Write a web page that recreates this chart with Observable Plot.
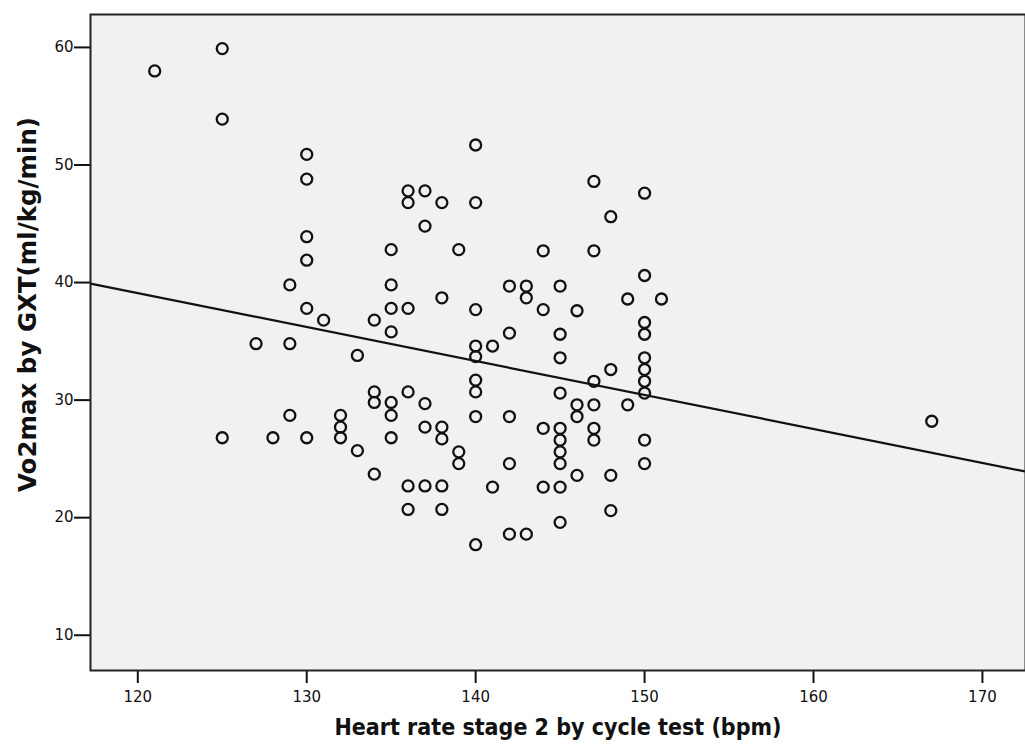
<!DOCTYPE html>
<html>
<head>
<meta charset="utf-8">
<script src="https://cdn.jsdelivr.net/npm/d3@7"></script>
<script src="https://cdn.jsdelivr.net/npm/@observablehq/plot@0.6"></script>
<style>
  html, body { margin: 0; padding: 0; background: #fff; overflow: hidden; }
</style>
</head>
<body>
<div id="chart"></div>
<script>
// Heart rate at stage 2 of the cycle test (bpm), one entry per subject
const heartRate = [
  121,
  125, 125, 125,
  127,
  128,
  129, 129, 129,
  130, 130, 130, 130, 130, 130,
  131,
  132, 132, 132,
  133, 133,
  134, 134, 134, 134,
  135, 135, 135, 135, 135, 135, 135,
  136, 136, 136, 136, 136, 136,
  137, 137, 137, 137, 137,
  138, 138, 138, 138, 138, 138,
  139, 139, 139,
  140, 140, 140, 140, 140, 140, 140, 140, 140,
  141, 141,
  142, 142, 142, 142, 142,
  143, 143, 143,
  144, 144, 144, 144,
  145, 145, 145, 145, 145, 145, 145, 145, 145, 145,
  146, 146, 146, 146,
  147, 147, 147, 147, 147, 147,
  148, 148, 148, 148,
  149, 149,
  150, 150, 150, 150, 150, 150, 150, 150, 150, 150,
  151,
  167
];

// VO2max measured by graded exercise test (ml/kg/min), same order
const vo2max = [
  58.0,
  59.9, 53.9, 26.8,
  34.8,
  26.8,
  39.8, 34.8, 28.7,
  50.9, 48.8, 43.9, 41.9, 37.8, 26.8,
  36.8,
  28.7, 27.7, 26.8,
  33.8, 25.7,
  36.8, 30.7, 29.8, 23.7,
  42.8, 39.8, 37.8, 35.8, 29.8, 28.7, 26.8,
  47.8, 46.8, 37.8, 30.7, 22.7, 20.7,
  47.8, 44.8, 29.7, 27.7, 22.7,
  46.8, 38.7, 27.7, 26.7, 22.7, 20.7,
  42.8, 25.6, 24.6,
  51.7, 46.8, 37.7, 34.6, 33.7, 31.7, 30.7, 28.6, 17.7,
  34.6, 22.6,
  39.7, 35.7, 28.6, 24.6, 18.6,
  39.7, 38.7, 18.6,
  42.7, 37.7, 27.6, 22.6,
  39.7, 35.6, 33.6, 30.6, 27.6, 26.6, 25.6, 24.6, 22.6, 19.6,
  37.6, 29.6, 28.6, 23.6,
  48.6, 42.7, 31.6, 29.6, 27.6, 26.6,
  45.6, 32.6, 23.6, 20.6,
  38.6, 29.6,
  47.6, 40.6, 36.6, 35.6, 33.6, 32.6, 31.6, 30.6, 26.6, 24.6,
  38.6,
  28.2
];

const xTicks = [120, 130, 140, 150, 160, 170];
const yTicks = [10, 20, 30, 40, 50, 60];
const xLabel = "Heart rate stage 2 by cycle test (bpm)";
const yLabel = "Vo2max by GXT(ml/kg/min)";

const xDomain = [117.2, 172.55];
const yDomain = [7.0, 62.8];

const points = heartRate.map((hr, i) => ({hr, vo2: vo2max[i]}));

// Ordinary least-squares fit line, drawn across the full x range
const mx = d3.mean(heartRate);
const my = d3.mean(vo2max);
const slope = d3.sum(points, d => (d.hr - mx) * (d.vo2 - my)) / d3.sum(points, d => (d.hr - mx) ** 2);
const intercept = my - slope * mx;
const fit = xDomain.map(x => ({hr: x, vo2: intercept + slope * x}));

const condensed = "'DejaVu Sans Condensed', 'DejaVu Sans', sans-serif";
const regular = "'DejaVu Sans', sans-serif";

const chart = Plot.plot({
  width: 1025,
  height: 751,
  marginLeft: 90,
  marginRight: 0,
  marginTop: 14,
  marginBottom: 81,
  style: {fontFamily: regular, fontSize: "15px", color: "#111", background: "#fff"},
  x: {domain: xDomain},
  y: {domain: yDomain},
  marks: [
    Plot.frame({fill: "#f1f1f1"}),
    Plot.axisX(xTicks, {tickSize: 13, tickPadding: 8, strokeWidth: 2, label: null, fill: "#111"}),
    Plot.axisY(yTicks, {tickSize: 16, tickPadding: 1, strokeWidth: 2, label: null, fill: "#111"}),
    Plot.line(fit, {x: "hr", y: "vo2", stroke: "#111", strokeWidth: 2.2, clip: true}),
    Plot.dot(points, {x: "hr", y: "vo2", r: 5.5, stroke: "#111", strokeWidth: 2.3, fill: "none"}),
    Plot.frame({stroke: "#222", strokeWidth: 2}),
    Plot.text([xLabel], {frameAnchor: "bottom", dy: 64, fontSize: 23, fontWeight: "bold", fontFamily: condensed, fill: "#111"}),
    Plot.text([yLabel], {frameAnchor: "left", textAnchor: "middle", dx: -62, dy: -38, rotate: -90, fontSize: 24.5, fontWeight: "bold", fontFamily: regular, fill: "#111"})
  ]
});

document.getElementById("chart").appendChild(chart);
</script>
</body>
</html>
